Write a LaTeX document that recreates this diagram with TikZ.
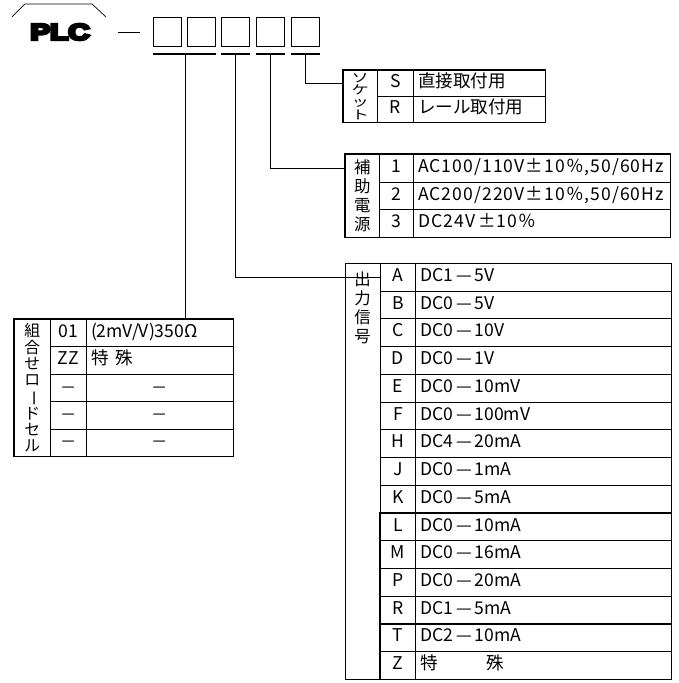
\documentclass[tikz,border=0pt]{standalone}
\usepackage{fontspec}
\usepackage{graphicx}
\setmainfont{Noto Sans CJK JP}
\newfontfamily\plcfont{Liberation Sans}
\newcommand{\vbar}{\rotatebox[origin=c]{-90}{ー}}
\newcommand{\nodash}{\scalebox{1.5}[1]{–}}
\newcommand{\sq}[1]{\scalebox{1.4}[1]{#1}}
\newcommand{\heavy}[1]{\special{pdf:literal direct 2 Tr 2.2 w}#1\special{pdf:literal direct 0 Tr}}

\begin{document}
\begin{tikzpicture}[x=0.03cm,y=-0.03cm,
  slot/.style={draw,line width=1.1pt,anchor=north west,inner sep=0pt,minimum width=.84cm,minimum height=.87cm},
  bar/.style={line width=1.8pt},
  link/.style={line width=.6pt},
  frame/.style={line width=1pt},
  cell/.style={draw,line width=.6pt,anchor=north west,inner sep=0pt,font=\fontsize{15}{16}\selectfont,text height=.85em,text depth=.12em},
  txt/.style={cell,align=left,inner xsep=4pt},
  vlab/.style={align=center,inner sep=0pt}]
\useasboundingbox (0,0) rectangle (678,683);
% type code
\draw[link] (12,17) -- (25,4) -- (92,4) -- (106,17);
\node[font=\plcfont\bfseries\fontsize{19.5}{19.5}\selectfont] (plc) at (60,32) {\scalebox{1.3}[1]{\heavy{PLC}}};
\draw[link] (118,32) -- (140,32);
\foreach \i/\x in {1/153,2/187,3/221,4/256,5/291}
  \node[slot] (s\i) at (\x,17) {};
\draw[bar] ([yshift=-.21cm]s1.south west) -- ([yshift=-.21cm]s2.south east);
\foreach \i in {3,4,5}
  \draw[bar] ([yshift=-.21cm]s\i.south west) -- ([yshift=-.21cm]s\i.south east);
\coordinate (t1) at (185,53);
\coordinate (t3) at (235,53);
\coordinate (t4) at (270,53);
\coordinate (t5) at (305,53);

% socket
\node[cell,minimum width=1.02cm,minimum height=1.56cm] (sockL) at (343,70) {};
\node[vlab,font=\fontsize{10.5}{10.6}\selectfont] (sockN) at (sockL.center) {\sq{ソ}\\\sq{ケ}\\\sq{ッ}\\\sq{ト}};
\foreach \c/\t [count=\i from 0] in {S/直接取付用,R/レール取付用}{
  \node[cell,minimum width=1.08cm,minimum height=.78cm] (sock\c) at (377,70+26*\i) {\c};
  \node[txt,text width=3.68cm,minimum height=.78cm] (sockT\c) at (413,70+26*\i) {\t};
}
\draw[frame] (sockL.north west) rectangle (sockTR.south east);

% power supply
\node[cell,minimum width=1.02cm,minimum height=2.49cm] (powL) at (345,154) {};
\node[vlab,font=\fontsize{14}{16}\selectfont] (powN) at (powL.center) {補\\助\\電\\源};
\foreach \c/\t [count=\i from 0] in {1/{AC100/110V±10％,50/60Hz},2/{AC200/220V±10％,50/60Hz},3/{DC24V\,±10％}}{
  \node[cell,minimum width=1.02cm,minimum height=.83cm] (pow\c) at (379,154+27.67*\i) {\c};
  \node[txt,text width=7.43cm,minimum height=.83cm] (powT\c) at (413,154+27.67*\i) {\addfontfeature{LetterSpace=6}\t};
}
\draw[frame] (powL.north west) rectangle (powT3.south east);

% output signal
\node[cell,minimum width=1.05cm,minimum height=12.48cm] (outL) at (345,263) {};
\node[vlab,font=\fontsize{14}{16}\selectfont,anchor=north] (outN) at (362.5,272) {出\\力\\信\\号};
\foreach \c/\t [count=\i from 0] in {A/DC1\,—\,5V,B/DC0\,—\,5V,C/DC0\,—\,10V,D/DC0\,—\,1V,
    E/DC0\,—\,10mV,F/DC0\,—\,100mV,H/DC4\,—\,20mA,J/DC0\,—\,1mA,K/DC0\,—\,5mA,
    L/DC0\,—\,10mA,M/DC0\,—\,16mA,P/DC0\,—\,20mA,R/DC1\,—\,5mA,T/DC2\,—\,10mA,Z/特\hspace{2.8em}殊}{
  \node[cell,minimum width=1.05cm,minimum height=.832cm] (out\c) at (380,263+27.73*\i) {\c};
  \node[txt,text width=7.4cm,minimum height=.832cm] (outT\c) at (415,263+27.73*\i) {\t};
}
\draw[frame] (outL.north west) rectangle (outTZ.south east);

% load cell
\node[cell,minimum width=1.08cm,minimum height=4.11cm] (lcL) at (14,319) {};
\node[vlab,font=\fontsize{13.5}{13.8}\selectfont] (lcN) at (lcL.center) {組\\合\\せ\\ロ\\\vbar\\ド\\セ\\ル};
\foreach \c/\t [count=\i from 0] in {01/{(2mV/V)350Ω},ZZ/特\hspace{.4em}殊}{
  \node[cell,minimum width=1.08cm,minimum height=.822cm] (lc\i) at (50,319+27.4*\i) {\c};
  \node[txt,text width=4.13cm,minimum height=.822cm] (lcT\i) at (86,319+27.4*\i) {\t};
}
\foreach \i in {2,3,4}{
  \node[cell,minimum width=1.08cm,minimum height=.822cm] (lc\i) at (50,319+27.4*\i) {\nodash};
  \node[cell,minimum width=4.41cm,minimum height=.822cm] (lcT\i) at (86,319+27.4*\i) {\nodash};
}
\draw[frame] (lcL.north west) rectangle (lcT4.south east);

% connectors
\draw[link] (t1) -- (t1 |- lcL.north);
\draw[link] (t3) |- (outL.west |- outA);
\draw[link] (t4) |- (powL.west |- pow1);
\draw[link] (t5) |- (sockL.west |- sockS);
\end{tikzpicture}
\end{document}
